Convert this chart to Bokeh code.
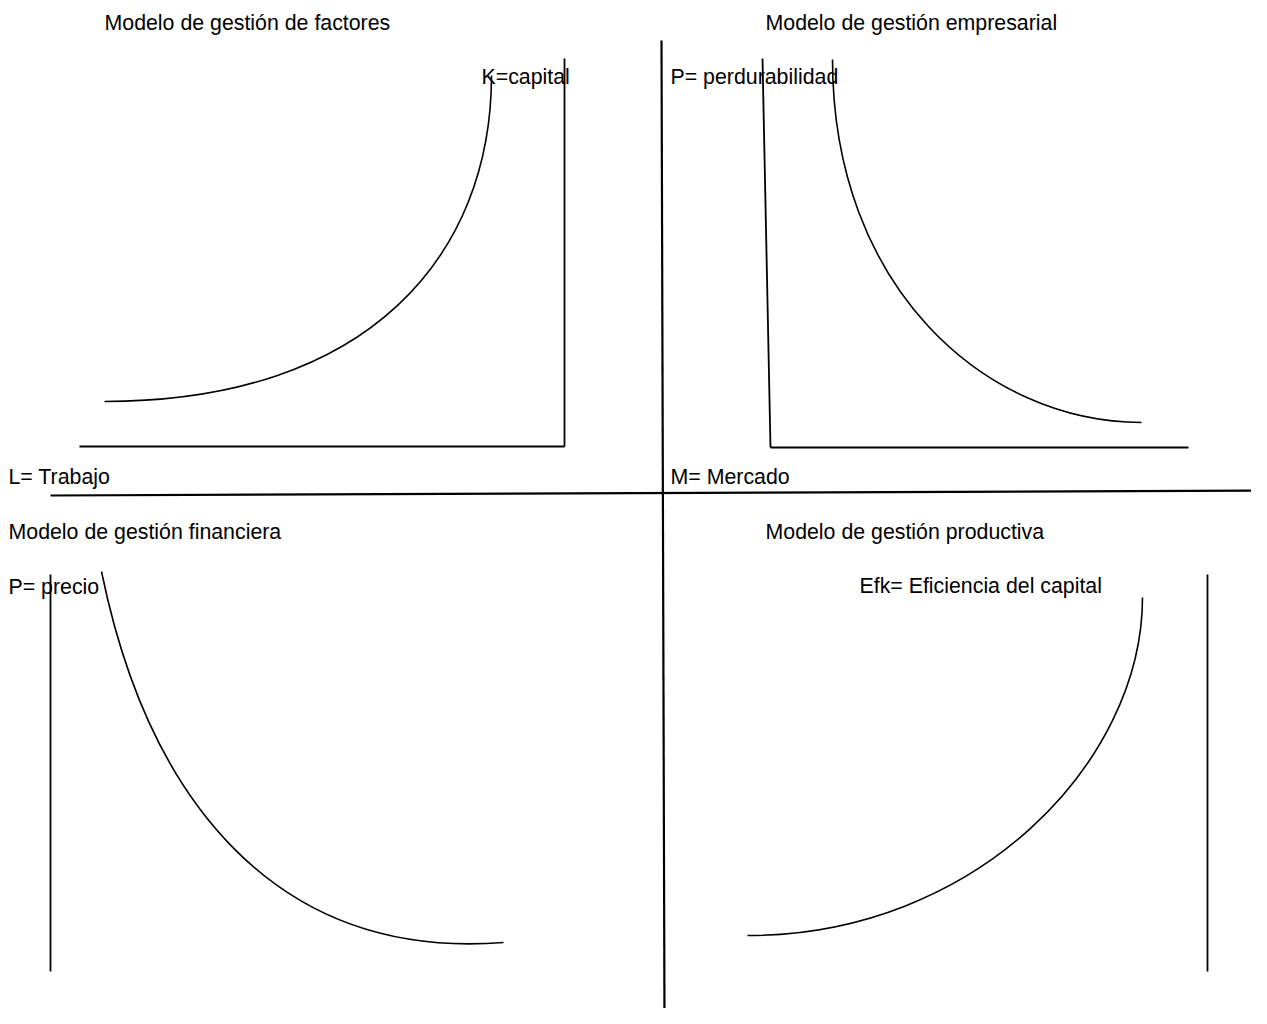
from bokeh.plotting import figure
from bokeh.models import ColumnDataSource, Range1d
from bokeh.core.properties import value
from bokeh.embed import file_html
from bokeh.resources import INLINE

# ---- diagram data (pixel coordinates) ----
label_text = [
    "Modelo de gestión de factores", "K=capital", "L= Trabajo",
    "Modelo de gestión empresarial", "P= perdurabilidad", "M= Mercado",
    "Modelo de gestión financiera", "P= precio",
    "Modelo de gestión productiva", "Efk= Eficiencia del capital",
]
label_x = [104, 481, 8, 765, 670, 670, 8, 8, 765, 859]
label_y = [22, 76, 476, 22, 76, 476, 531, 586, 531, 585]

# dividing cross (two long lines)
cross_x0 = [50, 661]
cross_y0 = [495, 40]
cross_x1 = [1267, 664]
cross_y1 = [490, 1024]

# quadrant axes
axis_x0 = [564, 79, 762, 770, 50, 1207]
axis_y0 = [58, 446, 58, 447, 574, 574]
axis_x1 = [564, 564, 770, 1188, 50, 1207]
axis_y1 = [446, 446, 447, 447, 971, 971]

# curves (cubic Bezier: start, control 1, control 2, end)
curve_name = ["factores", "empresarial", "financiera", "productiva"]
curve_x0 = [104, 832, 101, 747]
curve_y0 = [401, 59, 571, 935]
curve_cx0 = [369, 832, 147, 975]
curve_cy0 = [401, 287, 796, 935]
curve_cx1 = [491, 985, 273, 1142]
curve_cy1 = [254, 422, 960, 762]
curve_x1 = [491, 1141, 503, 1142]
curve_y1 = [75, 422, 942, 597]

p = figure(width=1251, height=1008,
           x_range=Range1d(0, 1251), y_range=Range1d(1008, 0),
           output_backend="svg", toolbar_location=None,
           x_axis_location=None, y_axis_location=None,
           min_border=0)
p.grid.visible = False
p.outline_line_color = None
p.background_fill_color = "white"
p.border_fill_color = "white"

p.segment(x0="x0", y0="y0", x1="x1", y1="y1",
          source=ColumnDataSource(dict(x0=cross_x0, y0=cross_y0, x1=cross_x1, y1=cross_y1)),
          line_color="black", line_width=2.2)
p.segment(x0="x0", y0="y0", x1="x1", y1="y1",
          source=ColumnDataSource(dict(x0=axis_x0, y0=axis_y0, x1=axis_x1, y1=axis_y1)),
          line_color="black", line_width=1.8)
p.bezier(x0="x0", y0="y0", x1="x1", y1="y1", cx0="cx0", cy0="cy0", cx1="cx1", cy1="cy1",
         source=ColumnDataSource(dict(x0=curve_x0, y0=curve_y0, x1=curve_x1, y1=curve_y1,
                                      cx0=curve_cx0, cy0=curve_cy0, cx1=curve_cx1, cy1=curve_cy1,
                                      name=curve_name)),
         line_color="black", line_width=1.6)

p.text(x="x", y="y", text="text",
       source=ColumnDataSource(dict(x=label_x, y=label_y, text=label_text)),
       text_font=value("Liberation Sans"), text_font_size="16pt",
       text_color="black", text_align="left", text_baseline="alphabetic")

open("out.html", "w").write(file_html(p, INLINE))
